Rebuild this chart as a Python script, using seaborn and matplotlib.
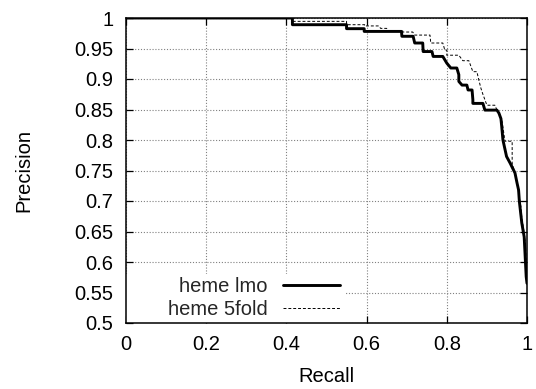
import matplotlib
matplotlib.use("Agg")
import matplotlib.pyplot as plt
from matplotlib.patches import Rectangle
import seaborn as sns
import numpy as np

# --- data ---
recall_lmo = [0.0, 0.415, 0.415, 0.55, 0.55, 0.594, 0.594, 0.687, 0.688, 0.716, 0.72, 0.74,
              0.741, 0.763, 0.766, 0.79, 0.80, 0.81, 0.825, 0.83, 0.83, 0.838, 0.85, 0.853,
              0.863, 0.865, 0.865, 0.89, 0.895, 0.925, 0.93, 0.935, 0.937, 0.94, 0.945,
              0.949, 0.958, 0.97, 0.975, 0.979, 0.981, 0.987, 0.993, 0.995, 0.998, 1.0]
precision_lmo = [1.0, 1.0, 0.989, 0.989, 0.9825, 0.9825, 0.978, 0.978, 0.970, 0.970, 0.959, 0.959,
                 0.945, 0.945, 0.937, 0.937, 0.926, 0.918, 0.918, 0.907, 0.896, 0.89, 0.89, 0.882,
                 0.882, 0.866, 0.86, 0.86, 0.849, 0.849, 0.844, 0.835, 0.822, 0.80, 0.785,
                 0.773, 0.762, 0.746, 0.73, 0.718, 0.699, 0.664, 0.641, 0.615, 0.576, 0.565]

recall_5fold = [0.0, 0.415, 0.415, 0.55, 0.55, 0.595, 0.595, 0.63, 0.635, 0.65, 0.655, 0.69,
                0.69, 0.715, 0.72, 0.758, 0.76, 0.79, 0.795, 0.80, 0.80, 0.83, 0.84, 0.855,
                0.86, 0.865, 0.875, 0.88, 0.885, 0.89, 0.895, 0.90, 0.92, 0.925, 0.93, 0.938,
                0.945, 0.963, 0.963, 0.968, 0.975, 0.98, 0.985, 0.987, 0.99, 0.993, 0.996,
                0.998, 1.0]
precision_5fold = [1.0, 1.0, 0.9945, 0.9945, 0.989, 0.989, 0.987, 0.987, 0.983, 0.983, 0.979, 0.979,
                   0.977, 0.977, 0.972, 0.972, 0.959, 0.959, 0.9475, 0.9475, 0.939, 0.939, 0.93, 0.93,
                   0.921, 0.912, 0.912, 0.898, 0.885, 0.875, 0.866, 0.857, 0.857, 0.849, 0.845, 0.83,
                   0.798, 0.798, 0.762, 0.75, 0.73, 0.71, 0.69, 0.672, 0.66, 0.647, 0.63,
                   0.60, 0.57]

labels = ["heme lmo", "heme 5fold"]
x_ticks = [0, 0.2, 0.4, 0.6, 0.8, 1]
y_ticks = [0.5, 0.55, 0.6, 0.65, 0.7, 0.75, 0.8, 0.85, 0.9, 0.95, 1]

sns.set_theme(style="white")
plt.rcParams['font.family'] = ['Liberation Sans', 'DejaVu Sans']
plt.rcParams['font.size'] = 14.5
plt.rcParams['axes.grid'] = True
plt.rcParams['grid.color'] = '#808080'
plt.rcParams['grid.linestyle'] = ':'
plt.rcParams['grid.linewidth'] = 0.8
plt.rcParams['lines.dotted_pattern'] = [1, 1.6]

W, H = 536, 389
fig = plt.figure(figsize=(W / 100, H / 100), dpi=100)
ax = fig.add_axes([126 / W, 1 - 323 / H, 401 / W, 305 / H])

sns.lineplot(x=recall_lmo, y=precision_lmo, sort=False, estimator=None, ax=ax,
             color="black", linewidth=2.1, label=labels[0], zorder=3)
sns.lineplot(x=recall_5fold, y=precision_5fold, sort=False, estimator=None, ax=ax,
             color="black", linewidth=0.7, linestyle=(0, (3, 2)), label=labels[1], zorder=2)

ax.set_xlim(0, 1)
ax.set_ylim(0.5, 1)
ax.set_xticks(x_ticks)
ax.set_xticklabels([f"{v:g}" for v in x_ticks])
ax.set_yticks(y_ticks)
ax.set_yticklabels([f"{v:g}" for v in y_ticks])

ax.grid(True, which="major", color="#808080", linestyle=":", linewidth=0.8)
ax.set_axisbelow(True)
for s in ax.spines.values():
    s.set_color("black")
    s.set_linewidth(1.1)
ax.tick_params(direction="in", length=5, width=0.9, color="black",
               top=True, right=True, bottom=True, left=True,
               labelsize=14.5, labelcolor="black", pad=9)

ax.set_xlabel("Recall", fontsize=14.5, color="black")
ax.set_ylabel("Precision", fontsize=14.5, color="black")
ax.xaxis.set_label_coords((326.5 - 126) / 401, (323 - 367) / 305)
ax.yaxis.set_label_coords((33 - 126) / 401, 0.5)

# white key area (hides the grid behind the legend, as in the reference)
ax.add_patch(Rectangle((0, 0), (346 - 126) / 401, (323 - 274) / 305,
                       transform=ax.transAxes, facecolor="white", edgecolor="none",
                       zorder=1.5))

leg = ax.legend(loc="lower right", bbox_to_anchor=((344 - 126) / 401, 0.0), markerfirst=False,
                frameon=False, handlelength=2.85, handletextpad=0.75,
                labelspacing=0.2, borderpad=0.2, borderaxespad=0.0, fontsize=14.5)
leg.set_zorder(5)

fig.savefig("out.png", dpi=100)
